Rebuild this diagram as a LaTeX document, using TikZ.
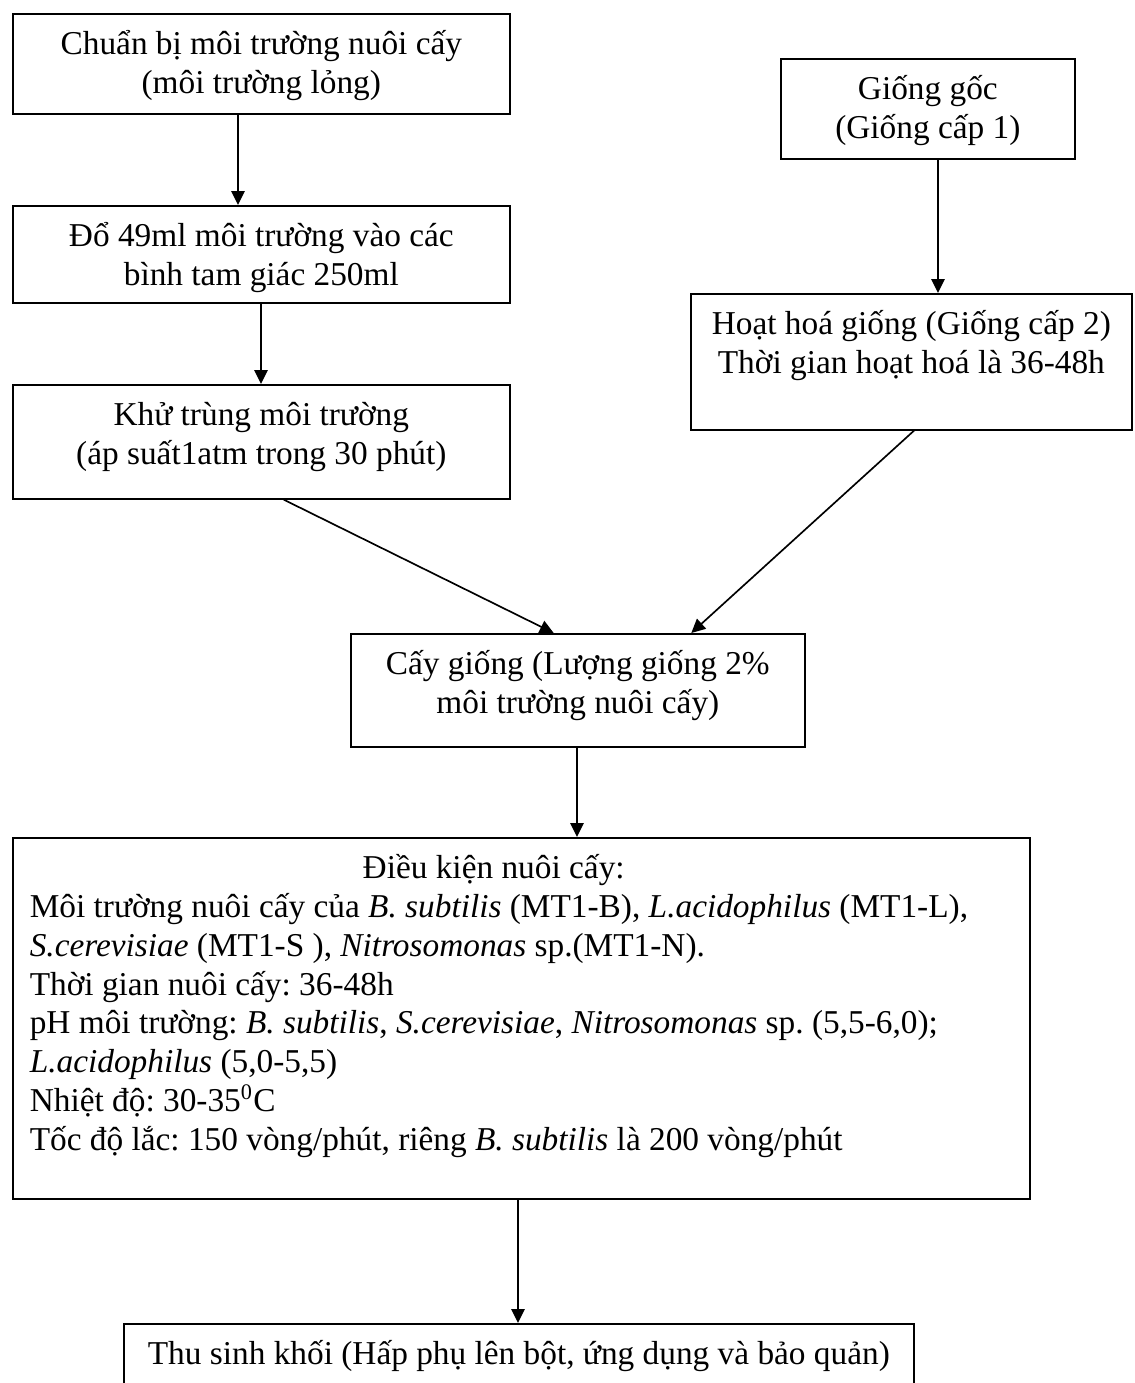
\documentclass[tikz,border=0pt]{standalone}
\usepackage{fontspec}
\setmainfont{Liberation Serif}
\usetikzlibrary{arrows.meta,calc}
\newcommand{\bx}[3]{\parbox[t][#2][t]{#1}{\centering\rule{0pt}{14.6pt}#3}}
\begin{document}
\frenchspacing
\begin{tikzpicture}[x=0.36pt,y=-0.36pt,
  font=\fontsize{12pt}{14pt}\selectfont,
  box/.style={draw, line width=0.6pt, inner sep=0pt, anchor=north west},
  arr/.style={-{Triangle[length=5pt,width=4.8pt]}, line width=0.6pt}]
\useasboundingbox[fill=white] (0,0) rectangle (1134,1383);

\node[box] (prep) at (12,13) {\bx{178.92pt}{36pt}{Chuẩn bị môi trường nuôi cấy\\(môi trường lỏng)}};
\node[box] (pour) at (12,205) {\bx{178.92pt}{34.92pt}{Đổ 49ml môi trường vào các\\bình tam giác 250ml}};
\node[box] (ster) at (12,384) {\bx{178.92pt}{41.04pt}{Khử trùng môi trường\\(áp suất1atm trong 30 phút)}};
\node[box] (stock) at (780,58) {\bx{105.84pt}{36pt}{Giống gốc\\(Giống cấp 1)}};
\node[box] (act) at (690,293) {\bx{158.76pt}{48.96pt}{Hoạt hoá giống (Giống cấp 2)\\Thời gian hoạt hoá là 36-48h}};
\node[box] (inoc) at (350,633) {\bx{163.44pt}{40.68pt}{Cấy giống (Lượng giống 2\%\\môi trường nuôi cấy)}};
\node[box] (cond) at (12,837) {\parbox[t][129.96pt][t]{366.12pt}{\raggedright\leftskip=6.1pt\relax
  \rule{0pt}{14.6pt}\makebox[334pt][c]{Điều kiện nuôi cấy:}\\
  Môi trường nuôi cấy của \textit{B. subtilis} (MT1-B), \textit{L.acidophilus} (MT1-L),\\
  \textit{S.cerevisiae} (MT1-S ), \textit{Nitrosomonas} sp.(MT1-N).\\
  Thời gian nuôi cấy: 36-48h\\
  pH môi trường: \textit{B. subtilis}, \textit{S.cerevisiae}, \textit{Nitrosomonas} sp. (5,5-6,0);\\
  \textit{L.acidophilus} (5,0-5,5)\\
  Nhiệt độ: 30-35\textsuperscript{0}C\\
  Tốc độ lắc: 150 vòng/phút, riêng \textit{B. subtilis} là 200 vòng/phút}};
\node[box] (harv) at (123,1323) {\bx{284.4pt}{25.2pt}{Thu sinh khối (Hấp phụ lên bột, ứng dụng và bảo quản)}};

\coordinate (c1) at (238,0);
\coordinate (c2) at (261,0);
\coordinate (c3) at (938,0);
\coordinate (c6) at (577,0);
\coordinate (c7) at (518,0);

\draw[arr] (prep.south -| c1) -- (pour.north -| c1);
\draw[arr] (pour.south -| c2) -- (ster.north -| c2);
\draw[arr] (stock.south -| c3) -- (act.north -| c3);
\draw[arr] ($(ster.south west)!0.545!(ster.south east)$) -- ($(inoc.north west)!0.447!(inoc.north east)$);
\draw[arr] ($(act.south west)!0.506!(act.south east)$) -- ($(inoc.north west)!0.749!(inoc.north east)$);
\draw[arr] (inoc.south -| c6) -- (cond.north -| c6);
\draw[arr] (cond.south -| c7) -- (harv.north -| c7);
\end{tikzpicture}
\end{document}
